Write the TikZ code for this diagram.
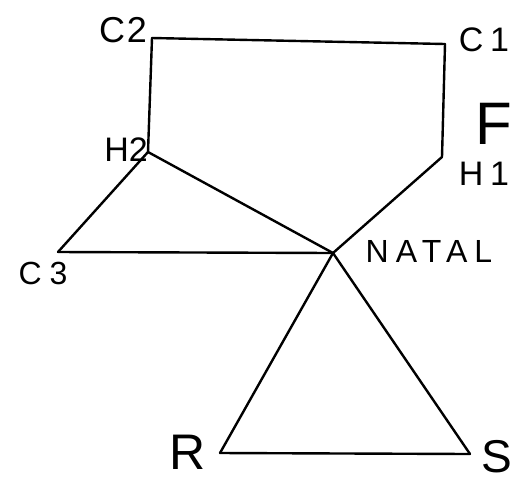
\documentclass[tikz,border=0pt]{standalone}
\usepackage{fontspec}
\setmainfont{Liberation Sans}
\begin{document}
\begin{tikzpicture}[x=1pt,y=-1pt,
  edge/.style={line width=2.4pt,line cap=round,line join=round},
  lbl/.style={inner sep=0pt,anchor=center}]
\useasboundingbox (0,0) rectangle (516,483);
\fill[white] (0,0) rectangle (516,483);
% points
\coordinate (C2) at (152,38);
\coordinate (C1) at (445,44);
\coordinate (H2) at (148,152);
\coordinate (H1) at (442,157);
\coordinate (C3) at (58,252);
\coordinate (N) at (333,253);
\coordinate (R) at (220,453);
\coordinate (S) at (470,454);
% connectors
\draw[edge] (C2) -- (C1);
\draw[edge] (C2) -- (H2);
\draw[edge] (C1) -- (H1);
\draw[edge] (H1) -- (N);
\draw[edge] (H2) -- (N);
\draw[edge] (H2) -- (C3);
\draw[edge] (C3) -- (N);
\draw[edge] (N) -- (R);
\draw[edge] (N) -- (S);
\draw[edge] (R) -- (S);
% labels
\node[lbl,font=\fontsize{36}{36}\selectfont\addfontfeature{LetterSpace=5}] (lC2) at (123,30) {C2};
\node[lbl,font=\fontsize{34}{34}\selectfont\addfontfeature{LetterSpace=20}] (lC1) at (484,40) {C1};
\node[lbl,font=\fontsize{60}{60}\selectfont] (lF) at (494,124) {F};
\node[lbl,font=\fontsize{34}{34}\selectfont] (lH2) at (126,150) {H2};
\node[lbl,font=\fontsize{34}{34}\selectfont\addfontfeature{LetterSpace=20}] (lH1) at (484,174) {H1};
\node[lbl,font=\fontsize{32}{32}\selectfont\addfontfeature{LetterSpace=22}] (lN) at (429,251) {NATAL};
\node[lbl,font=\fontsize{32}{32}\selectfont\addfontfeature{LetterSpace=25}] (lC3) at (43,273) {C3};
\node[lbl,font=\fontsize{50}{50}\selectfont] (lR) at (188,452) {R};
\node[lbl,font=\fontsize{46}{46}\selectfont] (lS) at (497,457) {S};
\end{tikzpicture}
\end{document}
